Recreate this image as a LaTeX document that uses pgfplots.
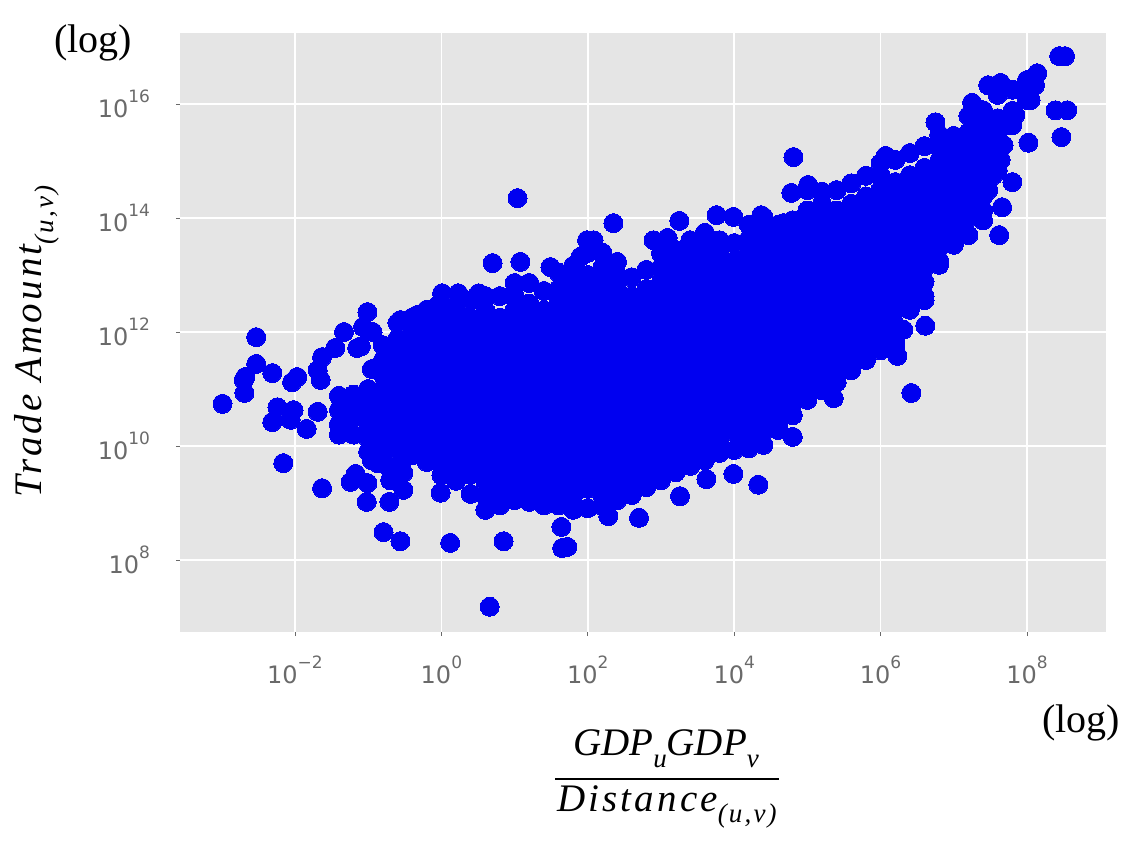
\documentclass[border=0pt]{standalone}
\usepackage{pgfplots}
\pgfplotsset{compat=1.18}
\usepackage{fontspec}
\setmainfont{DejaVu Sans}
\newfontfamily\ser{Liberation Serif}
\newfontfamily\serl[LetterSpace=8]{Liberation Serif}
\definecolor{tk}{HTML}{6A6A6A}
\definecolor{bg}{HTML}{E5E5E5}
\definecolor{dot}{HTML}{0000F0}
\newcommand{\tl}[1]{10\raisebox{0.62em}{\fontsize{8.5}{9}\selectfont #1}}
\newcommand{\subs}[1]{\raisebox{-0.3em}{\fontsize{13.5}{15}\selectfont #1}}
\begin{document}
\begin{tikzpicture}
\begin{scope}[x=0.5pt,y=-0.5pt]
\useasboundingbox (0,0) rectangle (1148,850);
\end{scope}
\begin{axis}[
  at={(90pt,-316pt)},anchor=south west,
  x=36.6pt,y=28.5pt,
  xmin=-3.571,xmax=9.08,ymin=6.737,ymax=17.246,
  axis background/.style={fill=bg},
  axis line style={draw=none},
  grid=major,grid style={white,line width=0.75pt},
  xtick={-2,0,2,4,6,8},ytick={8,10,12,14,16},
  xticklabels={\tl{−2},\tl{0},\tl{2},\tl{4},\tl{6},\tl{8}},
  yticklabels={\tl{8},\tl{10},\tl{12},\tl{14},\tl{16}},
  tick label style={font=\fontsize{12}{14}\selectfont,text=tk},
  tick align=outside,xtick pos=bottom,ytick pos=left,
  major tick length=2pt,tick style={tk,line width=0.4pt},
  xticklabel style={yshift=-6.5pt},yticklabel style={xshift=-9.5pt},
]
\addplot[dot,only marks,mark=*,mark size=4.75pt,mark options={solid,fill=dot,draw=dot,line width=0pt}] coordinates {
(-2.53,11.91)(-2.53,11.44)(-2.68,11.21)(-2.70,11.16)(-2.69,10.93)(-2.31,11.28)(-2.99,10.74)(-2.04,11.12)(-1.97,11.21)
(-2.24,10.68)(-2.31,10.42)(-2.02,10.63)(-2.06,10.46)(-1.84,10.30)(-1.69,10.60)(-2.16,9.70)(-1.63,9.26)(-1.17,9.51)
(-1.24,9.37)(-1.01,9.35)(-1.02,9.02)(-0.71,9.02)(-0.79,8.49)(-0.56,8.33)(0.12,8.30)(0.66,7.18)(-1.01,12.35)
(-1.33,12.00)(-1.07,12.09)(-0.94,12.00)(-1.45,11.72)(-1.63,11.56)(-1.69,11.33)(-1.65,11.16)(-1.15,11.72)(-0.87,9.70)
(-0.52,9.53)(-0.52,9.23)(-0.60,9.53)(-0.01,9.18)(0.70,13.21)(0.01,12.68)(-0.05,12.47)(0.23,12.68)(0.51,12.68)
(0.12,12.39)(-0.33,12.30)(-0.56,12.21)(1.04,14.35)(2.35,13.91)(1.08,13.23)(1.49,13.14)(1.99,13.61)(1.90,13.32)
(2.08,13.61)(2.90,13.61)(3.09,13.65)(3.25,13.95)(3.76,14.05)(3.99,14.02)(4.37,14.05)(4.67,13.91)(4.81,15.07)
(4.78,14.44)(5.01,14.58)(6.07,15.09)(6.75,15.68)(7.25,16.02)(7.47,16.33)(7.64,16.37)(8.14,16.54)(8.44,16.84)(8.52,16.84)
(8.39,15.89)(8.55,15.89)(8.47,15.42)(8.02,15.32)(7.80,14.63)(7.66,14.19)(7.62,13.70)(0.85,8.33)(1.72,8.23)(1.65,8.21)
(1.64,8.58)(2.70,8.74)(2.28,8.77)(3.26,9.12)(3.62,9.42)(3.99,9.51)(4.33,9.32)(4.80,10.16)(5.36,10.84)(6.42,10.93)
(6.23,11.58)(6.61,12.11)(6.31,12.04)
(8.05,16.07)(7.84,15.81)(7.77,15.63)(7.68,15.28)(7.64,15.02)(7.54,14.75)(7.47,14.49)(7.36,14.14)(8.11,16.33)
(-0.95,11.35)(-1.1,11.75)(-1,9.9)(-0.95,9.75)(-0.7,9.6)(-0.7,9.4)(-0.55,9.7)
(-1.4,10.20)(-1.4,10.38)(-1.4,10.63)(-1.4,10.88)
(-1.2,10.20)(-1.2,10.50)(-1.2,10.75)(-1.2,10.90)
(-1,10.13)(-1,10.38)(-1,10.63)(-1,10.88)(-1,11.0)
(-.8,9.75)(-.8,10)(-.8,10.25)(-.8,10.5)(-.8,10.75)(-.8,11)(-.8,11.25)(-.8,11.5)(-.8,11.77)
(-.6,9.93)(-.6,10.13)(-.6,10.38)(-.6,10.63)(-.6,10.88)(-.6,11.13)(-.6,11.38)(-.6,11.63)(-.6,11.88)(-.6,12.16)
(-.4,9.84)(-.4,10)(-.4,10.25)(-.4,10.5)(-.4,10.75)(-.4,11)(-.4,11.25)(-.4,11.5)(-.4,11.75)(-.4,12)(-.4,12.25)
(-.2,9.72)(-.2,9.88)(-.2,10.13)(-.2,10.38)(-.2,10.63)(-.2,10.88)(-.2,11.13)(-.2,11.38)(-.2,11.63)(-.2,11.88)(-.2,12.13)(-.2,12.39)
(0,9.49)(0,9.75)(0,10)(0,10.25)(0,10.5)(0,10.75)(0,11)(0,11.25)(0,11.5)(0,11.75)(0,12)(0,12.25)(0,12.47)
(.2,9.39)(.2,9.63)(.2,9.88)(.2,10.13)(.2,10.38)(.2,10.63)(.2,10.88)(.2,11.13)(.2,11.38)(.2,11.63)(.2,11.88)(.2,12.13)(.2,12.39)
(.4,9.16)(.4,9.5)(.4,9.75)(.4,10)(.4,10.25)(.4,10.5)(.4,10.75)(.4,11)(.4,11.25)(.4,11.5)(.4,11.75)(.4,12)(.4,12.25)(.4,12.56)
(.6,8.88)(.6,9.13)(.6,9.38)(.6,9.63)(.6,9.88)(.6,10.13)(.6,10.38)(.6,10.63)(.6,10.88)(.6,11.13)(.6,11.38)(.6,11.63)(.6,11.88)(.6,12.13)(.6,12.38)(.6,12.63)
(.8,8.96)(.8,9.25)(.8,9.5)(.8,9.75)(.8,10)(.8,10.25)(.8,10.5)(.8,10.75)(.8,11)(.8,11.25)(.8,11.5)(.8,11.75)(.8,12)(.8,12.25)(.8,12.63)
(1,9.05)(1,9.13)(1,9.38)(1,9.63)(1,9.88)(1,10.13)(1,10.38)(1,10.63)(1,10.88)(1,11.13)(1,11.38)(1,11.63)(1,11.88)(1,12.13)(1,12.38)(1,12.63)(1,12.86)
(1.2,9.02)(1.2,9.25)(1.2,9.5)(1.2,9.75)(1.2,10)(1.2,10.25)(1.2,10.5)(1.2,10.75)(1.2,11)(1.2,11.25)(1.2,11.5)(1.2,11.75)(1.2,12)(1.2,12.25)(1.2,12.5)(1.2,12.86)
(1.4,8.96)(1.4,9.13)(1.4,9.38)(1.4,9.63)(1.4,9.88)(1.4,10.13)(1.4,10.38)(1.4,10.63)(1.4,10.88)(1.4,11.13)(1.4,11.38)(1.4,11.63)(1.4,11.88)(1.4,12.13)(1.4,12.38)(1.4,12.72)
(1.6,8.96)(1.6,9.25)(1.6,9.5)(1.6,9.75)(1.6,10)(1.6,10.25)(1.6,10.5)(1.6,10.75)(1.6,11)(1.6,11.25)(1.6,11.5)(1.6,11.75)(1.6,12)(1.6,12.25)(1.6,12.5)(1.6,12.75)(1.6,13.04)
(1.8,8.88)(1.8,9.13)(1.8,9.38)(1.8,9.63)(1.8,9.88)(1.8,10.13)(1.8,10.38)(1.8,10.63)(1.8,10.88)(1.8,11.13)(1.8,11.38)(1.8,11.63)(1.8,11.88)(1.8,12.13)(1.8,12.38)(1.8,12.63)(1.8,12.88)(1.8,13.16)
(2,8.91)(2,9.25)(2,9.5)(2,9.75)(2,10)(2,10.25)(2,10.5)(2,10.75)(2,11)(2,11.25)(2,11.5)(2,11.75)(2,12)(2,12.25)(2,12.5)(2,12.75)(2,13)(2,13.39)
(2.2,8.95)(2.2,9.13)(2.2,9.38)(2.2,9.63)(2.2,9.88)(2.2,10.13)(2.2,10.38)(2.2,10.63)(2.2,10.88)(2.2,11.13)(2.2,11.38)(2.2,11.63)(2.2,11.88)(2.2,12.13)(2.2,12.38)(2.2,12.63)(2.2,12.88)(2.2,13.13)(2.2,13.39)
(2.4,9.05)(2.4,9.25)(2.4,9.5)(2.4,9.75)(2.4,10)(2.4,10.25)(2.4,10.5)(2.4,10.75)(2.4,11)(2.4,11.25)(2.4,11.5)(2.4,11.75)(2.4,12)(2.4,12.25)(2.4,12.5)(2.4,12.75)(2.4,13)(2.4,13.23)
(2.6,9.14)(2.6,9.38)(2.6,9.63)(2.6,9.88)(2.6,10.13)(2.6,10.38)(2.6,10.63)(2.6,10.88)(2.6,11.13)(2.6,11.38)(2.6,11.63)(2.6,11.88)(2.6,12.13)(2.6,12.38)(2.6,12.63)(2.6,12.96)
(2.8,9.28)(2.8,9.5)(2.8,9.75)(2.8,10)(2.8,10.25)(2.8,10.5)(2.8,10.75)(2.8,11)(2.8,11.25)(2.8,11.5)(2.8,11.75)(2.8,12)(2.8,12.25)(2.8,12.5)(2.8,12.75)(2.8,13.09)
(3,9.40)(3,9.63)(3,9.88)(3,10.13)(3,10.38)(3,10.63)(3,10.88)(3,11.13)(3,11.38)(3,11.63)(3,11.88)(3,12.13)(3,12.38)(3,12.63)(3,12.88)(3,13.13)(3,13.38)(3,13.56)
(3.2,9.54)(3.2,9.75)(3.2,10)(3.2,10.25)(3.2,10.5)(3.2,10.75)(3.2,11)(3.2,11.25)(3.2,11.5)(3.2,11.75)(3.2,12)(3.2,12.25)(3.2,12.5)(3.2,12.75)(3.2,13)(3.2,13.25)(3.2,13.44)
(3.4,9.65)(3.4,9.88)(3.4,10.13)(3.4,10.38)(3.4,10.63)(3.4,10.88)(3.4,11.13)(3.4,11.38)(3.4,11.63)(3.4,11.88)(3.4,12.13)(3.4,12.38)(3.4,12.63)(3.4,12.88)(3.4,13.13)(3.4,13.38)(3.4,13.61)
(3.6,9.75)(3.6,10)(3.6,10.25)(3.6,10.5)(3.6,10.75)(3.6,11)(3.6,11.25)(3.6,11.5)(3.6,11.75)(3.6,12)(3.6,12.25)(3.6,12.5)(3.6,12.75)(3.6,13)(3.6,13.25)(3.6,13.5)(3.6,13.74)
(3.8,9.88)(3.8,10.13)(3.8,10.38)(3.8,10.63)(3.8,10.88)(3.8,11.13)(3.8,11.38)(3.8,11.63)(3.8,11.88)(3.8,12.13)(3.8,12.38)(3.8,12.63)(3.8,12.88)(3.8,13.13)(3.8,13.38)(3.8,13.61)
(4,9.93)(4,10.25)(4,10.5)(4,10.75)(4,11)(4,11.25)(4,11.5)(4,11.75)(4,12)(4,12.25)(4,12.5)(4,12.75)(4,13)(4,13.25)(4,13.56)
(4.2,9.96)(4.2,10.13)(4.2,10.38)(4.2,10.63)(4.2,10.88)(4.2,11.13)(4.2,11.38)(4.2,11.63)(4.2,11.88)(4.2,12.13)(4.2,12.38)(4.2,12.63)(4.2,12.88)(4.2,13.13)(4.2,13.38)(4.2,13.63)(4.2,13.88)
(4.4,10.02)(4.4,10.25)(4.4,10.5)(4.4,10.75)(4.4,11)(4.4,11.25)(4.4,11.5)(4.4,11.75)(4.4,12)(4.4,12.25)(4.4,12.5)(4.4,12.75)(4.4,13)(4.4,13.25)(4.4,13.5)(4.4,13.75)(4.4,14.02)
(4.6,10.28)(4.6,10.38)(4.6,10.63)(4.6,10.88)(4.6,11.13)(4.6,11.38)(4.6,11.63)(4.6,11.88)(4.6,12.13)(4.6,12.38)(4.6,12.63)(4.6,12.88)(4.6,13.13)(4.6,13.38)(4.6,13.63)(4.6,13.88)
(4.8,10.54)(4.8,10.75)(4.8,11)(4.8,11.25)(4.8,11.5)(4.8,11.75)(4.8,12)(4.8,12.25)(4.8,12.5)(4.8,12.75)(4.8,13)(4.8,13.25)(4.8,13.5)(4.8,13.75)(4.8,13.96)
(5,10.81)(5,10.88)(5,11.13)(5,11.38)(5,11.63)(5,11.88)(5,12.13)(5,12.38)(5,12.63)(5,12.88)(5,13.13)(5,13.38)(5,13.63)(5,13.88)(5,14.13)(5,14.49)
(5.2,10.98)(5.2,11.25)(5.2,11.5)(5.2,11.75)(5.2,12)(5.2,12.25)(5.2,12.5)(5.2,12.75)(5.2,13)(5.2,13.25)(5.2,13.5)(5.2,13.75)(5.2,14)(5.2,14.25)(5.2,14.46)
(5.4,11.12)(5.4,11.38)(5.4,11.63)(5.4,11.88)(5.4,12.13)(5.4,12.38)(5.4,12.63)(5.4,12.88)(5.4,13.13)(5.4,13.38)(5.4,13.63)(5.4,13.88)(5.4,14.13)(5.4,14.49)
(5.6,11.33)(5.6,11.5)(5.6,11.75)(5.6,12)(5.6,12.25)(5.6,12.5)(5.6,12.75)(5.6,13)(5.6,13.25)(5.6,13.5)(5.6,13.75)(5.6,14)(5.6,14.25)(5.6,14.61)
(5.8,11.51)(5.8,11.63)(5.8,11.88)(5.8,12.13)(5.8,12.38)(5.8,12.63)(5.8,12.88)(5.8,13.13)(5.8,13.38)(5.8,13.63)(5.8,13.88)(5.8,14.13)(5.8,14.38)(5.8,14.74)
(6,11.68)(6,11.75)(6,12)(6,12.25)(6,12.5)(6,12.75)(6,13)(6,13.25)(6,13.5)(6,13.75)(6,14)(6,14.25)(6,14.5)(6,14.75)(6,14.96)
(6.2,11.77)(6.2,11.88)(6.2,12.13)(6.2,12.38)(6.2,12.63)(6.2,12.88)(6.2,13.13)(6.2,13.38)(6.2,13.63)(6.2,13.88)(6.2,14.13)(6.2,14.38)(6.2,14.63)(6.2,15.02)
(6.4,12.39)(6.4,12.5)(6.4,12.75)(6.4,13)(6.4,13.25)(6.4,13.5)(6.4,13.75)(6.4,14)(6.4,14.25)(6.4,14.5)(6.4,14.75)(6.4,15.14)
(6.6,12.56)(6.6,12.63)(6.6,12.88)(6.6,13.13)(6.6,13.38)(6.6,13.63)(6.6,13.88)(6.6,14.13)(6.6,14.38)(6.6,14.63)(6.6,14.88)(6.6,15.26)
(6.8,13.18)(6.8,13.25)(6.8,13.5)(6.8,13.75)(6.8,14)(6.8,14.25)(6.8,14.5)(6.8,14.75)(6.8,15)(6.8,15.25)(6.8,15.46)
(7,13.53)(7,13.63)(7,13.88)(7,14.13)(7,14.38)(7,14.63)(7,14.88)(7,15.13)(7,15.44)
(7.2,13.70)(7.2,14)(7.2,14.25)(7.2,14.5)(7.2,14.75)(7.2,15)(7.2,15.25)(7.2,15.5)(7.2,15.79)
(7.4,13.96)(7.4,14.13)(7.4,14.38)(7.4,14.63)(7.4,14.88)(7.4,15.13)(7.4,15.38)(7.4,15.63)(7.4,15.89)
(7.6,14.84)(7.6,15)(7.6,15.25)(7.6,15.5)(7.6,15.75)(7.6,16.16)
(7.8,15.63)(7.8,15.88)(7.8,16.25)
(8,16.07)(8,16.25)(8,16.42)
};
\end{axis}
\begin{scope}[x=0.5pt,y=-0.5pt]
\node[font=\ser\fontsize{20}{22}\selectfont] at (93,43) {(log)};
\node[font=\ser\fontsize{20}{22}\selectfont] at (1081,723) {(log)};
\node[rotate=90,font=\serl\itshape\fontsize{19.5}{22}\selectfont,anchor=west,inner xsep=0pt] at (37,498) {Trade Amount\subs{(u,v)}};
\node[font=\ser\itshape\fontsize{19.5}{22}\selectfont] at (666,749) {GDP\subs{u}GDP\subs{v}};
\draw[line width=1pt,black] (555,779) -- (779,779);
\node[font=\serl\itshape\fontsize{19.5}{22}\selectfont] at (667,807) {Distance\subs{(u,v)}};
\end{scope}
\end{tikzpicture}
\end{document}
